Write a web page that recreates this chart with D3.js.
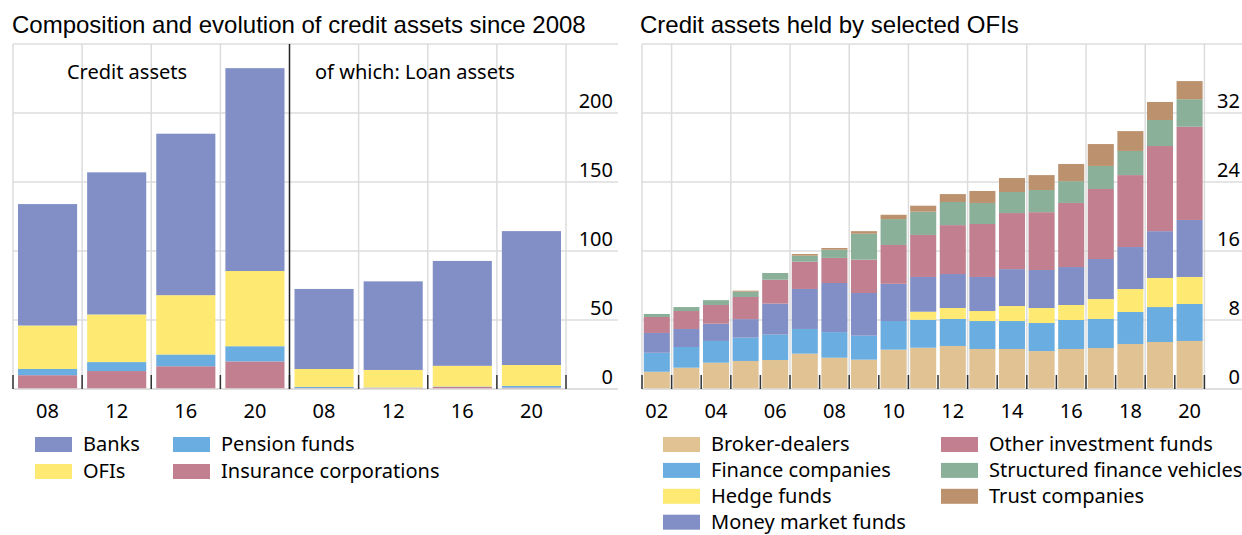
<!DOCTYPE html>
<html>
<head>
<meta charset="utf-8">
<script src="https://cdn.jsdelivr.net/npm/d3@7"></script>
<style>
  html, body { margin: 0; padding: 0; background: #fff; }
  svg text { font-family: "Noto Sans", "Open Sans", sans-serif; fill: #000; }
  svg text.title { font-family: "Liberation Sans", Arial, sans-serif; }
</style>
</head>
<body>
<div id="chart"></div>
<script>
// ── Left panel data (USD trn, stacked bottom → top) ──
const LEFT_YEARS      = ["08","12","16","20","08","12","16","20"];
const LEFT_SERIES     = ["Insurance corporations","Pension funds","OFIs","Banks"];
const insuranceVals   = [10, 13, 16.5, 20, 0.6, 0.8, 1.5, 1.0];
const pensionVals     = [4.5, 6.5, 8.5, 11, 0.9, 0.3, 0.3, 1.2];
const ofiVals         = [31.5, 34.5, 43, 54.5, 13, 12.7, 15, 15.2];
const bankVals        = [88, 103, 117, 147, 58, 64.2, 76, 97];
const LEFT_TICKS      = [0, 50, 100, 150, 200];

// ── Right panel data ──
const RIGHT_YEARS     = ["02","03","04","05","06","07","08","09","10","11","12","13","14","15","16","17","18","19","20"];
const brokerVals      = [2.0, 2.47, 3.05, 3.25, 3.36, 4.1, 3.63, 3.4, 4.56, 4.79, 4.99, 4.64, 4.64, 4.4, 4.64, 4.75, 5.22, 5.45, 5.57];
const financeVals     = [2.2, 2.4, 2.52, 2.7, 2.94, 2.86, 2.97, 2.78, 3.32, 3.24, 3.13, 3.24, 3.24, 3.25, 3.36, 3.37, 3.71, 4.05, 4.29];
const hedgeVals       = [0, 0, 0, 0, 0, 0, 0, 0, 0, 0.93, 1.27, 1.16, 1.74, 1.74, 1.74, 2.31, 2.66, 3.37, 3.13];
const mmfVals         = [2.3, 2.09, 2.0, 2.15, 3.6, 4.64, 5.69, 4.95, 4.32, 4.03, 3.94, 3.95, 4.28, 4.41, 4.4, 4.64, 4.87, 5.43, 6.61];
const oifVals         = [1.85, 2.08, 2.17, 2.57, 2.77, 3.16, 2.91, 3.87, 4.5, 4.87, 5.67, 6.14, 6.5, 6.7, 7.43, 8.12, 8.34, 9.87, 10.8];
const sfvVals         = [0.35, 0.46, 0.56, 0.61, 0.78, 0.7, 0.95, 3.0, 3.0, 2.7, 2.68, 2.44, 2.44, 2.57, 2.53, 2.67, 2.8, 3.02, 3.2];
const trustVals       = [0, 0, 0, 0.12, 0, 0.19, 0.2, 0.3, 0.5, 0.69, 0.92, 1.39, 1.62, 1.73, 1.99, 2.54, 2.3, 2.09, 2.1];
const RIGHT_SERIES    = ["Broker-dealers","Finance companies","Hedge funds","Money market funds","Other investment funds","Structured finance vehicles","Trust companies"];
const RIGHT_TICKS     = [0, 8, 16, 24, 32];

const COLOR = {
  "Banks": "#828FC6", "OFIs": "#FEE972", "Pension funds": "#6AADE0", "Insurance corporations": "#C17F8F",
  "Broker-dealers": "#E1C393", "Finance companies": "#6AADE0", "Hedge funds": "#FEE972",
  "Money market funds": "#828FC6", "Other investment funds": "#C17F8F",
  "Structured finance vehicles": "#8BB09A", "Trust companies": "#BC926E"
};
const GRID = "#DCDCDC";
const FS = 20;

const svg = d3.select("#chart").append("svg").attr("width", 1242).attr("height", 535);

function buildRows(keys, series, names) {
  return keys.map((k, i) => {
    const row = { key: i };
    names.forEach((n, j) => row[n] = series[j][i]);
    return row;
  });
}

function panel(opt) {
  const g = svg.append("g");
  const y = d3.scaleLinear().domain([0, opt.yMax]).range([389, 44]);
  const x = d3.scaleBand().domain(d3.range(opt.keys.length))
    .range([opt.x0, opt.x1]).paddingInner(opt.pad).paddingOuter(opt.pad / 2);

  // horizontal grid + frame top
  g.selectAll(".hgrid").data(opt.ticks.concat([opt.yMax])).join("line")
    .attr("x1", opt.x0).attr("x2", opt.gridRight)
    .attr("y1", d => y(d)).attr("y2", d => y(d))
    .attr("stroke", GRID).attr("stroke-width", 1.5);

  // vertical grid
  g.selectAll(".vgrid").data(opt.vLines).join("line")
    .attr("x1", d => d).attr("x2", d => d).attr("y1", 44).attr("y2", 389)
    .attr("stroke", GRID).attr("stroke-width", 1.5);

  // stacked bars
  const rows = buildRows(opt.keys, opt.series, opt.names);
  const stack = d3.stack().keys(opt.names)(rows);
  g.selectAll(".layer").data(stack).join("g")
    .attr("fill", d => COLOR[d.key])
    .selectAll("rect").data(d => d).join("rect")
    .attr("x", d => x(d.data.key)).attr("width", x.bandwidth())
    .attr("y", d => y(d[1])).attr("height", d => Math.max(0, y(d[0]) - y(d[1])));

  // baseline
  g.append("line").attr("x1", opt.x0).attr("x2", opt.gridRight)
    .attr("y1", 389).attr("y2", 389).attr("stroke", GRID).attr("stroke-width", 1.5);

  // dark category ticks between bars
  const step = x.step();
  g.selectAll(".ctick").data(d3.range(opt.keys.length + 1)).join("line")
    .attr("x1", i => opt.x0 + i * step).attr("x2", i => opt.x0 + i * step)
    .attr("y1", 375).attr("y2", 389).attr("stroke", "#333").attr("stroke-width", 1.5);

  // y tick labels (inside, right side, above grid line)
  g.selectAll(".ylab").data(opt.ticks).join("text")
    .attr("x", opt.labelRight).attr("y", d => y(d) - 5)
    .attr("text-anchor", "end").attr("font-size", FS).text(d => d);

  // x labels at bar centres (every n-th category)
  g.selectAll(".xlab").data(opt.keys.map((k, i) => i).filter(i => i % opt.labelEvery === 0)).join("text")
    .attr("x", i => x(i) + x.bandwidth() / 2).attr("y", 418)
    .attr("text-anchor", "middle").attr("font-size", FS).text(i => opt.keys[i]);

  // title
  g.append("text").attr("class", "title").attr("x", opt.titleX).attr("y", 33)
    .attr("font-size", 24).text(opt.title);

  // legend
  opt.legend.forEach((name, i) => {
    const col = Math.floor(i / opt.legendRows), row = i % opt.legendRows;
    const lx = opt.legendX[col], ly = 437 + row * opt.legendStep;
    g.append("rect").attr("x", lx).attr("y", ly).attr("width", 37).attr("height", 15).attr("fill", COLOR[name]);
    g.append("text").attr("x", lx + 48).attr("y", ly + 14).attr("font-size", FS).text(name);
  });
  return { g, x, y };
}

// ── Left panel ──
const left = panel({
  keys: LEFT_YEARS, names: LEFT_SERIES,
  series: [insuranceVals, pensionVals, ofiVals, bankVals],
  yMax: 250, ticks: LEFT_TICKS, x0: 13, x1: 566, pad: 0.145, gridRight: 618,
  vLines: d3.range(9).map(i => 13 + i * (553 / 8)).filter((d, i) => i !== 4),
  labelRight: 613, labelEvery: 1,
  title: "Composition and evolution of credit assets since 2008", titleX: 12,
  legend: ["Banks", "OFIs", "Pension funds", "Insurance corporations"],
  legendRows: 2, legendX: [35, 173], legendStep: 27
});
// divider between total and loan assets
left.g.append("line").attr("x1", 13 + 4 * 553 / 8).attr("x2", 13 + 4 * 553 / 8)
  .attr("y1", 44).attr("y2", 389).attr("stroke", "#222").attr("stroke-width", 1.5);
left.g.append("text").attr("x", 127).attr("y", 79).attr("text-anchor", "middle")
  .attr("font-size", FS).text("Credit assets");
left.g.append("text").attr("x", 315).attr("y", 79).attr("font-size", FS).text("of which: Loan assets");

// ── Right panel ──
const rStep = (1204.4 - 642) / 19;
panel({
  keys: RIGHT_YEARS, names: RIGHT_SERIES,
  series: [brokerVals, financeVals, hedgeVals, mmfVals, oifVals, sfvVals, trustVals],
  yMax: 40, ticks: RIGHT_TICKS, x0: 642, x1: 1204.4, pad: 0.12, gridRight: 1242,
  vLines: [642].concat(d3.range(10).map(i => 642 + (2 * i + 1) * rStep)),
  labelRight: 1240, labelEvery: 2,
  title: "Credit assets held by selected OFIs", titleX: 640,
  legend: RIGHT_SERIES, legendRows: 4, legendX: [663, 941], legendStep: 25.9
});
</script>
</body>
</html>
